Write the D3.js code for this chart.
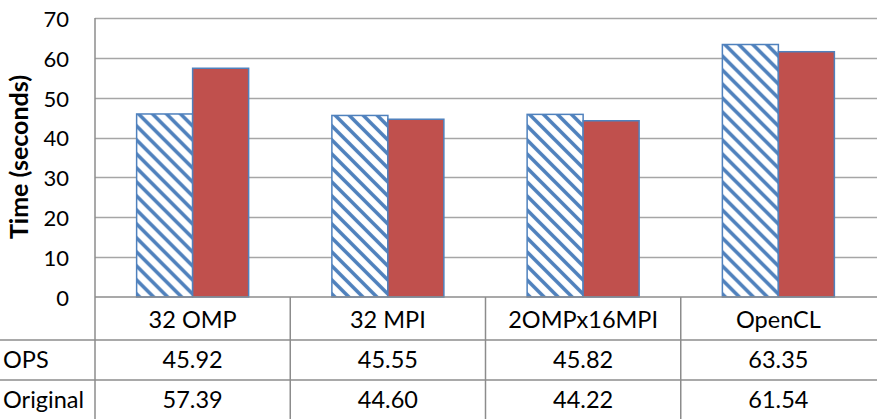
<!DOCTYPE html>
<html>
<head>
<meta charset="utf-8">
<script src="https://cdn.jsdelivr.net/npm/d3@7"></script>
<style>
  html, body { margin: 0; padding: 0; background: #fff; }
  svg { display: block; font-family: Lato, "Open Sans", sans-serif; }
</style>
</head>
<body>
<svg id="chart" width="877" height="419"></svg>
<script>
// Run times per configuration, in seconds
const categories = ["32 OMP", "32 MPI", "2OMPx16MPI", "OpenCL"];
const seriesNames = ["OPS", "Original"];
const opsValues = [45.92, 45.55, 45.82, 63.35];
const originalValues = [57.39, 44.60, 44.22, 61.54];
const yTicks = [0, 10, 20, 30, 40, 50, 60, 70];
const yLabel = "Time (seconds)";

const seriesValues = [opsValues, originalValues];

const W = 877, H = 419;
const plot = { left: 95, right: 876, top: 18, bottom: 297 };
const rowLines = [340, 380];
const rowCenters = [360, 400];
const textSize = 23.5;

const svg = d3.select("#chart");

// Diagonal hatch for the OPS series
const defs = svg.append("defs");
const pat = defs.append("pattern")
  .attr("id", "hatch")
  .attr("patternUnits", "userSpaceOnUse")
  .attr("width", 14).attr("height", 14);
pat.append("rect").attr("width", 14).attr("height", 14).attr("fill", "#fff");
pat.append("path")
  .attr("d", "M-7,7 L7,21 M0,0 L14,14 M7,-7 L21,7")
  .attr("stroke", "#4F81BD")
  .attr("stroke-width", 3.6)
  .attr("fill", "none");

const x = d3.scaleBand().domain(categories).range([plot.left, plot.right]);
const y = d3.scaleLinear().domain([0, 70]).range([plot.bottom, plot.top]);
const barW = 56;
const xSeries = d3.scaleBand().domain(seriesNames)
  .range([0, barW * 2]);

// Gridlines
svg.append("g")
  .selectAll("line")
  .data(yTicks.filter(d => d > 0))
  .join("line")
  .attr("x1", plot.left).attr("x2", W)
  .attr("y1", d => Math.round(y(d)) + 0.5).attr("y2", d => Math.round(y(d)) + 0.5)
  .attr("stroke", "#a6a6a6").attr("stroke-width", 1.3);

// Y axis tick labels
const yAxis = d3.axisLeft(y).tickValues(yTicks).tickSize(0).tickPadding(0);
const gy = svg.append("g").attr("transform", "translate(69,0)").call(yAxis);
gy.select(".domain").remove();
gy.selectAll("text")
  .attr("font-family", "Lato, 'Open Sans', sans-serif")
  .attr("font-size", 22)
  .attr("fill", "#000")
  .attr("dy", "0.38em");

// Y axis title
svg.append("text")
  .attr("transform", `translate(28,157) rotate(-90)`)
  .attr("text-anchor", "middle")
  .attr("font-size", 25)
  .attr("font-weight", "bold")
  .attr("fill", "#000")
  .text(yLabel);

// Bars
const groups = svg.append("g")
  .selectAll("g")
  .data(categories)
  .join("g")
  .attr("transform", d => `translate(${x(d) + (x.bandwidth() - barW * 2) / 2},0)`);

groups.selectAll("rect")
  .data((d, i) => seriesNames.map((s, j) => ({ s, v: seriesValues[j][i] })))
  .join("rect")
  .attr("x", d => xSeries(d.s))
  .attr("y", d => y(d.v))
  .attr("width", xSeries.bandwidth())
  .attr("height", d => y(0) - y(d.v))
  .attr("fill", d => d.s === "OPS" ? "url(#hatch)" : "#C0504D")
  .attr("stroke", "#4F81BD")
  .attr("stroke-width", 1.5);

// Data table lines
const lineColor = "#8c8c8c";
const tbl = svg.append("g").attr("stroke", lineColor).attr("stroke-width", 1.5);
tbl.append("line").attr("x1", plot.left).attr("x2", W).attr("y1", plot.bottom).attr("y2", plot.bottom);
rowLines.forEach(ly => tbl.append("line").attr("x1", 0).attr("x2", W).attr("y1", ly).attr("y2", ly));
tbl.append("line").attr("x1", plot.left).attr("x2", plot.left).attr("y1", plot.top).attr("y2", H);
categories.slice(1).forEach(c => tbl.append("line")
  .attr("x1", x(c)).attr("x2", x(c)).attr("y1", plot.bottom).attr("y2", H));

// Category header
svg.append("g")
  .selectAll("text")
  .data(categories)
  .join("text")
  .attr("x", d => x(d) + x.bandwidth() / 2)
  .attr("y", 320)
  .attr("dy", "0.35em")
  .attr("text-anchor", "middle")
  .attr("font-size", textSize)
  .text(d => d);

// Series rows
seriesNames.forEach((name, j) => {
  svg.append("text")
    .attr("x", 3).attr("y", rowCenters[j]).attr("dy", "0.35em")
    .attr("font-size", textSize)
    .text(name);
  svg.append("g")
    .selectAll("text")
    .data(seriesValues[j])
    .join("text")
    .attr("x", (d, i) => x(categories[i]) + x.bandwidth() / 2)
    .attr("y", rowCenters[j]).attr("dy", "0.35em")
    .attr("text-anchor", "middle")
    .attr("font-size", textSize)
    .text(d => d.toFixed(2));
});
</script>
</body>
</html>
